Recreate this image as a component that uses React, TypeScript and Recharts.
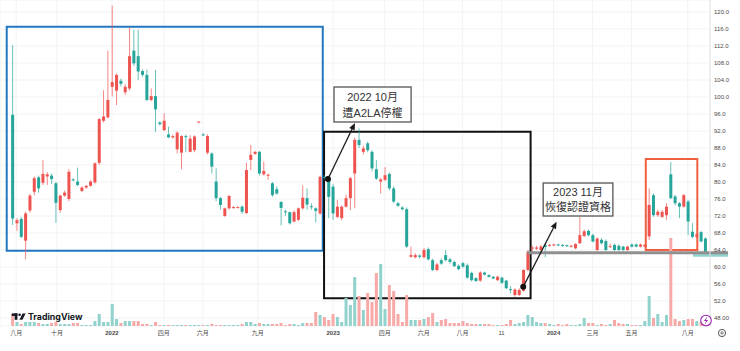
import React from 'react'
import {
  ComposedChart, Bar, XAxis, YAxis, CartesianGrid, Cell,
  ReferenceArea, ReferenceLine, ReferenceDot,
} from 'recharts'

// Taiwan colouring: red candles rise, teal candles fall (volume keeps TV default)
const UP = '#ef5350'
const DOWN = '#26a69a'
const VOL_UP = '#92d2cc'
const VOL_DOWN = '#f7a9a7'
const FONT = "'Liberation Sans', Arial, 'Noto Sans CJK TC', sans-serif"

// weekly bars, Aug 2021 -> Aug 2024 (index = week number)
const opens = [
  95.8, 70.3, 71.3, 66.2, 73.3, 77.7, 81.1, 79.8, 81.3, 81.5,
  79.7, 73.4, 76.8, 76.0, 80.6, 80.1, 77.9, 78.7, 79.1, 79.9,
  84.5, 94.4, 95.2, 102.4, 101.5, 103.8, 101.1, 102.0, 110.9, 109.6,
  106.1, 105.2, 99.3, 100.2, 94.0, 92.2, 91.2, 90.5, 87.7, 86.9,
  90.8, 87.1, 87.5, 94.0, 91.2, 86.9, 86.7, 80.1, 76.2, 72.0,
  73.8, 73.9, 74.0, 74.2, 72.7, 85.2, 86.6, 87.1, 81.8, 81.5,
  79.7, 78.3, 75.3, 73.1, 72.9, 70.7, 71.1, 73.8, 76.2, 74.3,
  73.8, 72.6, 81.2, 80.9, 78.9, 71.8, 71.5, 74.2, 76.2, 82.0,
  89.9, 87.1, 89.1, 87.1, 83.0, 80.1, 80.5, 81.9, 78.5, 75.0,
  74.0, 73.6, 62.4, 62.3, 62.7, 62.3, 64.2, 61.6, 59.3, 61.6,
  62.8, 61.8, 61.2, 60.3, 60.9, 60.4, 58.6, 57.4, 56.8, 58.7,
  58.1, 57.7, 56.9, 57.5, 56.8, 54.8, 53.4, 53.4, 54.4, 59.3,
  64.3, 64.3, 64.0, 65.1, 65.0, 65.1, 65.3, 65.2, 65.1, 64.8,
  64.4, 65.6, 67.3, 68.5, 67.5, 64.0, 66.4, 66.1, 64.7, 65.2,
  65.0, 64.8, 64.0, 65.3, 65.3, 64.8, 64.8, 67.2, 76.9, 72.2,
  71.8, 72.2, 81.8, 76.6, 75.0, 74.2, 75.4, 68.3, 67.1, 68.2,
  66.7,
]
const highs = [
  112.2, 71.5, 71.8, 73.0, 77.2, 81.3, 81.5, 85.2, 82.3, 82.0,
  80.0, 77.0, 78.0, 83.0, 80.9, 83.4, 79.0, 79.3, 80.4, 84.6,
  95.0, 101.6, 110.9, 121.5, 105.5, 104.3, 103.0, 116.5, 115.8, 115.8,
  106.5, 106.4, 102.0, 106.4, 94.3, 96.2, 93.0, 91.2, 92.0, 91.0,
  91.2, 91.0, 91.0, 94.3, 91.5, 91.2, 87.0, 83.2, 76.5, 74.0,
  77.0, 74.3, 74.3, 74.5, 84.5, 88.7, 87.3, 87.3, 84.8, 82.0,
  80.0, 79.0, 75.5, 73.5, 73.0, 73.3, 74.0, 79.2, 78.5, 75.0,
  74.0, 81.5, 81.6, 81.5, 79.5, 75.8, 74.5, 77.0, 81.2, 90.5,
  92.6, 88.5, 89.5, 87.5, 85.2, 81.0, 83.5, 82.3, 79.0, 75.3,
  74.3, 74.0, 64.8, 63.2, 63.0, 64.5, 64.6, 62.0, 61.0, 62.0,
  64.0, 62.2, 61.5, 60.6, 61.2, 60.8, 58.9, 57.6, 59.0, 58.9,
  58.3, 57.9, 58.0, 57.7, 57.0, 55.5, 55.0, 55.0, 59.5, 64.0,
  65.0, 65.0, 65.2, 65.4, 65.4, 65.5, 65.5, 65.4, 65.3, 65.2,
  65.6, 71.8, 68.8, 68.8, 67.8, 67.0, 66.8, 66.5, 65.5, 65.5,
  65.3, 65.0, 65.0, 65.5, 65.5, 65.5, 65.4, 78.5, 77.3, 73.5,
  73.4, 75.0, 84.7, 77.0, 75.3, 77.2, 75.8, 70.3, 68.0, 68.5,
  67.0,
]
const lows = [
  69.9, 68.5, 66.8, 61.8, 72.8, 76.9, 77.5, 79.3, 79.3, 79.5,
  70.4, 72.8, 76.5, 75.5, 80.2, 79.0, 77.6, 78.4, 78.9, 79.6,
  84.0, 94.0, 95.0, 100.1, 98.1, 102.5, 100.5, 101.5, 107.3, 104.0,
  104.8, 99.0, 99.0, 91.8, 93.3, 92.0, 90.3, 90.2, 86.7, 83.0,
  87.0, 87.0, 87.0, 93.9, 90.8, 86.5, 82.0, 75.5, 73.5, 71.8,
  73.5, 73.7, 73.8, 72.5, 72.5, 82.8, 86.4, 81.5, 81.5, 80.5,
  76.5, 77.0, 69.8, 72.0, 70.0, 70.5, 70.8, 73.5, 73.5, 73.5,
  70.5, 72.3, 80.6, 71.5, 71.1, 71.5, 71.0, 74.0, 73.4, 73.8,
  88.0, 86.5, 87.0, 82.5, 80.5, 77.3, 80.2, 78.0, 75.0, 74.2,
  73.3, 64.5, 62.2, 62.0, 62.0, 62.0, 61.5, 59.0, 59.0, 60.5,
  61.3, 60.8, 60.0, 59.2, 59.8, 57.2, 56.6, 56.5, 56.5, 58.0,
  57.5, 57.1, 56.7, 56.0, 54.8, 53.8, 53.0, 53.2, 54.2, 59.0,
  63.5, 64.0, 63.8, 62.3, 64.8, 64.9, 64.9, 64.8, 64.7, 64.6,
  64.2, 65.4, 67.0, 67.2, 65.8, 63.8, 65.3, 63.8, 64.5, 63.8,
  63.8, 63.8, 63.8, 64.6, 64.6, 64.6, 64.6, 66.4, 71.8, 71.8,
  71.5, 71.1, 76.0, 74.5, 71.5, 74.0, 67.5, 66.8, 66.8, 65.8,
  63.3,
]
const closes = [
  71.4, 71.0, 67.1, 72.6, 76.8, 80.9, 78.5, 81.9, 81.8, 80.7,
  75.1, 76.8, 77.5, 82.4, 80.4, 79.3, 78.7, 79.1, 80.1, 84.4,
  94.8, 95.4, 99.3, 103.5, 105.2, 103.1, 102.4, 109.6, 107.9, 106.0,
  105.2, 99.3, 100.2, 97.1, 93.6, 94.4, 90.5, 90.8, 91.6, 90.8,
  90.6, 90.2, 90.7, 94.2, 91.0, 90.8, 83.6, 76.2, 74.6, 73.8,
  76.7, 74.1, 74.1, 73.0, 82.8, 86.4, 87.1, 82.0, 82.6, 81.7,
  76.9, 77.3, 73.9, 72.9, 70.3, 72.9, 73.8, 76.3, 74.7, 74.1,
  73.2, 81.2, 81.0, 76.5, 72.6, 74.2, 74.2, 76.2, 80.9, 89.9,
  88.7, 87.9, 87.5, 83.2, 80.8, 80.6, 81.6, 78.5, 75.4, 74.4,
  73.6, 64.8, 62.8, 62.8, 62.4, 64.0, 61.8, 59.3, 60.6, 60.8,
  61.6, 61.2, 60.2, 59.5, 60.1, 57.5, 56.9, 56.7, 58.7, 58.2,
  57.7, 57.3, 57.7, 56.3, 55.0, 54.6, 54.7, 54.6, 59.3, 63.6,
  64.6, 64.6, 64.8, 64.7, 65.2, 65.3, 65.1, 65.0, 64.9, 65.0,
  65.4, 67.5, 68.4, 67.5, 66.0, 66.7, 65.6, 64.0, 64.9, 64.0,
  64.0, 64.0, 64.8, 64.8, 64.8, 65.3, 65.2, 74.6, 72.2, 73.0,
  73.0, 74.2, 76.2, 75.0, 74.2, 76.9, 70.7, 67.1, 67.7, 66.0,
  63.6,
]
// volume, arbitrary units
const volumes = [
  12, 4, 2, 4, 4, 4, 3, 2, 2, 3,
  4, 2, 2, 2, 3, 3, 1, 1, 1, 5,
  12, 4, 4, 22, 7, 3, 5, 5, 5, 5,
  2, 2, 1, 4, 1, 1, 1, 1, 1, 1,
  1, 1, 1, 1, 1, 1, 2, 1, 1, 1,
  1, 1, 1, 2, 4, 4, 2, 3, 2, 2,
  2, 2, 3, 1, 2, 2, 1, 3, 3, 3,
  14, 11, 9, 6, 12, 9, 4, 28, 21, 49,
  30, 16, 33, 24, 53, 62, 17, 41, 35, 12,
  4, 31, 6, 6, 6, 7, 9, 13, 4, 6,
  7, 3, 3, 3, 5, 3, 2, 2, 2, 2,
  2, 1, 1, 1, 2, 6, 2, 3, 4, 11,
  9, 4, 3, 3, 2, 1, 2, 1, 2, 1,
  1, 2, 8, 3, 3, 1, 2, 1, 2, 6,
  3, 2, 2, 1, 1, 1, 5, 30, 8, 12,
  4, 11, 88, 7, 5, 6, 7, 7, 5, 4,
  4,
]

const dateTickIdx = [0.9, 10.3, 23, 35, 44, 56.7, 74.1, 86, 95, 104, 113, 125, 134, 143, 156]
const dateTickLabels = ['八月', '十月', '2022', '四月', '六月', '九月', '2023', '四月', '六月', '八月', '11', '2024', '三月', '五月', '八月']
const priceTicks = [48, 52, 56, 60, 64, 68, 72, 76, 80, 84, 88, 92, 96, 100, 104, 108, 112, 116, 120]

const note1 = ['2022 10月', '遭A2LA停權']
const note2 = ['2023 11月', '恢復認證資格']

const rows = opens.map((o, i) => ({
  i,
  open: o,
  high: highs[i],
  low: lows[i],
  close: closes[i],
  range: [lows[i], highs[i]],
  volume: volumes[i],
}))

const Candle = (props: any) => {
  const { x, y, width, height, payload } = props
  if (x == null || !payload) return null
  const { open, close, high, low } = payload
  const color = close >= open ? UP : DOWN
  const h = Math.abs(height)
  const top = Math.min(y, y + height)
  const k = h / (high - low)
  const cx = x + width / 2
  const bodyTop = top + (high - Math.max(open, close)) * k
  const bodyH = Math.max(1, Math.abs(open - close) * k)
  return (
    <g>
      <line x1={cx} x2={cx} y1={top} y2={top + h} stroke={color} strokeOpacity={0.7} strokeWidth={1} />
      <rect x={x} y={bodyTop} width={width} height={bodyH} fill={color} />
    </g>
  )
}

const Arrow = (p: any) => {
  const { x1, y1, x2, y2 } = p
  const a = Math.atan2(y2 - y1, x2 - x1)
  const bx = x2 - 7 * Math.cos(a)
  const by = y2 - 7 * Math.sin(a)
  const s = Math.sin(a) * 3
  const c = Math.cos(a) * 3
  return (
    <g>
      <line x1={x1} y1={y1} x2={bx} y2={by} stroke="#1a1a1a" strokeWidth={1.3} />
      <polygon points={`${x2},${y2} ${bx + s},${by - c} ${bx - s},${by + c}`} fill="#1a1a1a" />
    </g>
  )
}

const noteBox = (lines: string[]) => (p: any) => {
  const { x, y, width, height } = p
  const cx = x + width / 2
  const t = { textAnchor: 'middle' as const, fontSize: 11, fill: '#333', fontFamily: FONT }
  return (
    <g>
      <rect x={x} y={y} width={width} height={height} fill="#fff" stroke="#555" strokeWidth={1.3} />
      <text x={cx} y={y + height * 0.39} {...t}>{lines[0]}</text>
      <text x={cx} y={y + height * 0.855} {...t}>{lines[1]}</text>
    </g>
  )
}

const DateTick = ({ x, y, payload }: any) => {
  const label = dateTickLabels[dateTickIdx.indexOf(payload.value)] ?? ''
  const isYear = /^\d{4}$/.test(label)
  return (
    <text x={x} y={y} dy="0.71em" textAnchor="middle" fontSize={6} fill="#4a4a4a"
      fontWeight={isYear ? 700 : 400} fontFamily={FONT}>
      {label}
    </text>
  )
}

export default function App() {
  return (
    <div style={{ position: 'absolute', left: 0, top: 0, width: 740, height: 351, background: '#fff', overflow: 'hidden' }}>
      <ComposedChart width={740} height={351} data={rows} margin={{ top: 0, right: 0, bottom: 0, left: 0 }}>
        <CartesianGrid stroke="#f2f3f6" yAxisId="price" />
        <XAxis
          dataKey="i" type="number" domain={[-2.84, 161.13]} allowDataOverflow
          ticks={dateTickIdx} interval={0} tick={<DateTick />}
          height={25} tickSize={2} tickMargin={3} tickLine={false} axisLine={false}
        />
        <XAxis xAxisId="vol" dataKey="i" type="number" domain={[-2.84, 161.13]} allowDataOverflow hide />
        <YAxis
          yAxisId="price" orientation="right" type="number" domain={[46.12, 122.82]} allowDataOverflow
          ticks={priceTicks} interval={0} width={30} tickSize={2} tickMargin={2}
          tickLine={false} axisLine={{ stroke: '#e3e5ea' }}
          tick={{ fontSize: 6, fill: '#4a4a4a', fontFamily: FONT }}
          tickFormatter={(v: number) => (v === 48 ? '48.00' : v.toFixed(1))}
        />
        <YAxis yAxisId="vol" type="number" domain={[0, 326]} allowDataOverflow hide />

        <Bar xAxisId="vol" yAxisId="vol" dataKey="volume" barSize={3} isAnimationActive={false}>
          {rows.map((r) => (
            <Cell key={r.i} fill={r.close >= r.open ? VOL_UP : VOL_DOWN} />
          ))}
        </Bar>
        <Bar yAxisId="price" dataKey="range" barSize={3} shape={<Candle />} isAnimationActive={false} />

        {/* drawings */}
        <ReferenceArea yAxisId="price" x1={-1.29} x2={71.7} y1={63.84} y2={116.54}
          fill="none" stroke="#2278c0" strokeWidth={2} ifOverflow="visible" />
        <ReferenceArea yAxisId="price" x1={72.0} x2={119.7} y1={52.64} y2={91.84}
          fill="none" stroke="#111" strokeWidth={2} ifOverflow="visible" />
        <ReferenceArea yAxisId="price" x1={146.3} x2={158.2} y1={64.0} y2={85.41}
          fill="none" stroke="#f0603f" strokeWidth={2} ifOverflow="visible" />
        <ReferenceArea yAxisId="price" x1={157.2} x2={165.3} y1={62.4} y2={63.4}
          fill="#26a69a" stroke="none" ifOverflow="visible" />
        <ReferenceLine yAxisId="price" segment={[{ x: 118.9, y: 63.36 }, { x: 165.3, y: 63.36 }]}
          stroke="#8f8f8f" strokeWidth={3} ifOverflow="visible" />

        <ReferenceArea yAxisId="price" x1={74.3} x2={92.1} y1={94.12} y2={102.35}
          ifOverflow="visible" shape={noteBox(note1)} />
        <ReferenceArea yAxisId="price" x1={122.6} x2={138.7} y1={72.0} y2={79.76}
          ifOverflow="visible" shape={noteBox(note2)} />

        <ReferenceLine yAxisId="price" segment={[{ x: 72.9, y: 80.7 }, { x: 79.14, y: 93.88 }]}
          ifOverflow="visible" shape={Arrow} />
        <ReferenceLine yAxisId="price" segment={[{ x: 118.0, y: 55.36 }, { x: 125.7, y: 70.66 }]}
          ifOverflow="visible" shape={Arrow} />
        <ReferenceDot yAxisId="price" x={72.9} y={80.7} r={3} fill="#111" stroke="none" ifOverflow="visible" />
        <ReferenceDot yAxisId="price" x={118.0} y={55.36} r={3} fill="#111" stroke="none" ifOverflow="visible" />
      </ComposedChart>

      <svg width={740} height={351} style={{ position: 'absolute', left: 0, top: 0, pointerEvents: 'none' }}>
        {/* TradingView mark */}
        <rect x={11.8} y={313.4} width={5.6} height={2.5} fill="#131722" />
        <rect x={14.7} y={313.4} width={2.7} height={6.4} fill="#131722" />
        <circle cx={19.6} cy={314.7} r={1.3} fill="#131722" />
        <polygon points="22.6,313.4 25.6,313.4 22.4,319.8 19.4,319.8" fill="#131722" />
        <text x={28} y={319.6} fontSize={8.8} fontWeight={700} fill="#131722" fontFamily="Inter, 'Liberation Sans', sans-serif">
          TradingView
        </text>
        {/* lightning */}
        <circle cx={706} cy={320.5} r={5.3} fill="#fff" stroke="#9c27b0" strokeWidth={1.1} />
        <polygon points="707.2,316.8 703.9,321 706,321 704.8,324.2 708.1,319.9 706,319.9" fill="#9c27b0" />
        {/* settings */}
        <circle cx={722} cy={333} r={3.6} fill="none" stroke="#555" strokeWidth={1} />
        <circle cx={722} cy={333} r={1.2} fill="none" stroke="#555" strokeWidth={0.8} />
      </svg>
    </div>
  )
}
